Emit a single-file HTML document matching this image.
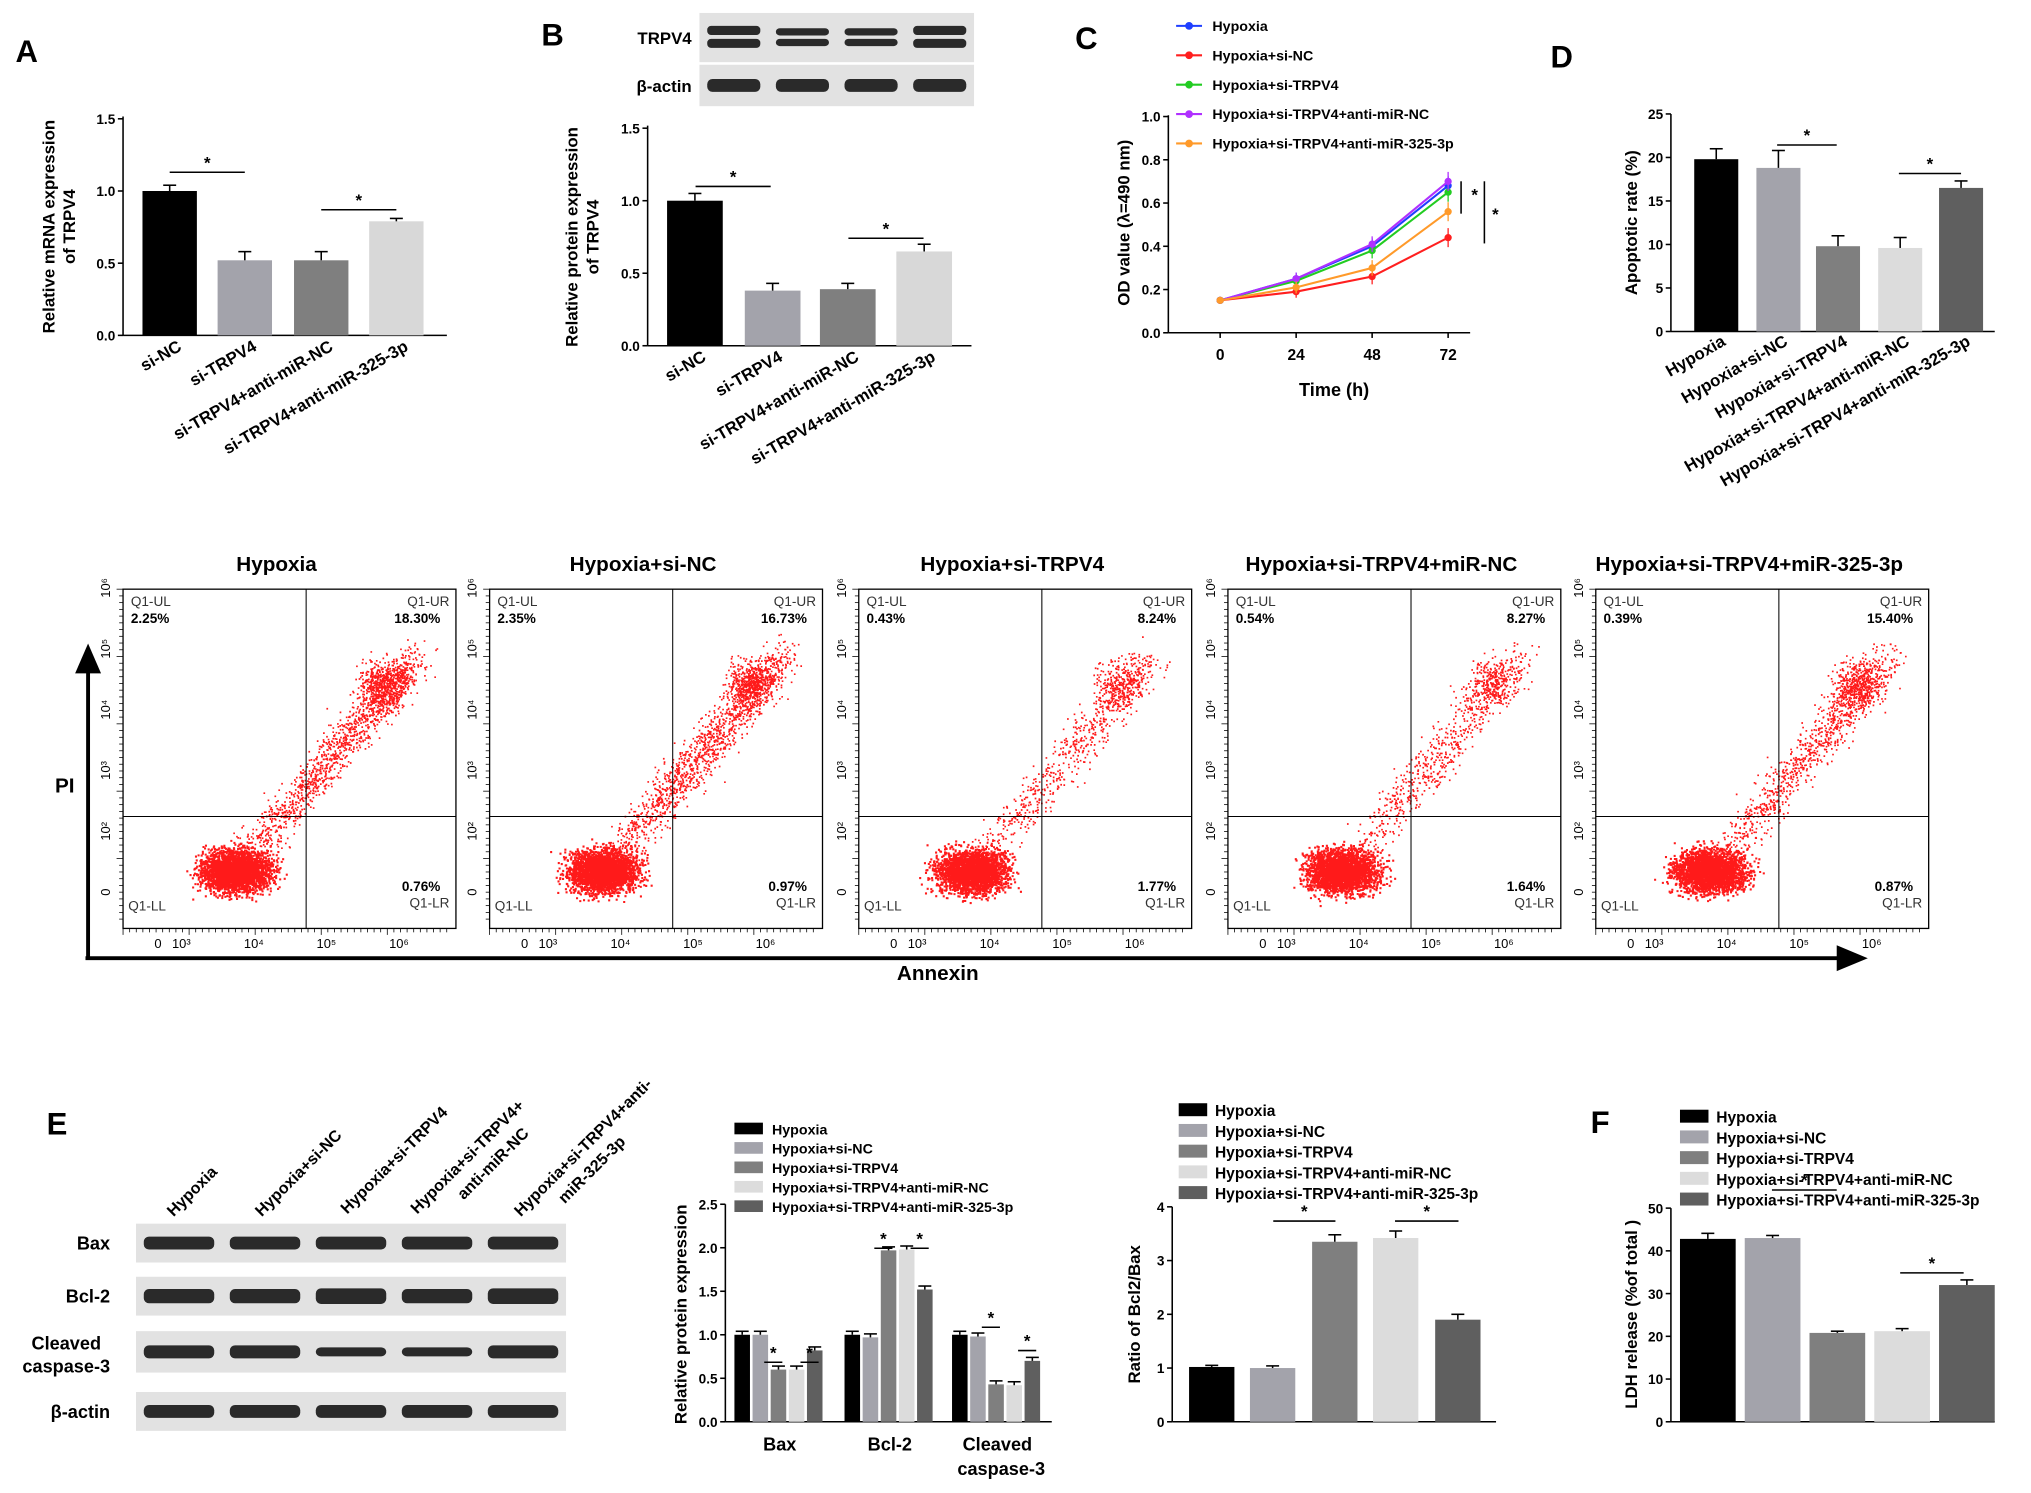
<!DOCTYPE html>
<html><head><meta charset="utf-8"><style>
html,body{margin:0;padding:0;background:#fff}
svg{display:block;font-family:"Liberation Sans",Arial,sans-serif}
</style></head><body>
<svg id="fig" width="2031" height="1493" viewBox="0 0 1568 1153" preserveAspectRatio="none" xmlns="http://www.w3.org/2000/svg"></svg>
<script>
// ---------- data ----------
const aCats=["si-NC","si-TRPV4","si-TRPV4+anti-miR-NC","si-TRPV4+anti-miR-325-3p"];
const aVals=[1.0,0.52,0.52,0.79];
const aErr=[0.04,0.06,0.06,0.02];
const bVals=[1.0,0.38,0.39,0.65];
const bErr=[0.05,0.05,0.04,0.05];
const cTimes=[0,24,48,72];
const cSeries=["Hypoxia","Hypoxia+si-NC","Hypoxia+si-TRPV4","Hypoxia+si-TRPV4+anti-miR-NC","Hypoxia+si-TRPV4+anti-miR-325-3p"];
const cHyp=[0.15,0.25,0.40,0.68];
const cSiNC=[0.15,0.19,0.26,0.44];
const cSiT=[0.15,0.24,0.38,0.65];
const cAntiNC=[0.15,0.25,0.41,0.70];
const cAnti325=[0.15,0.21,0.30,0.56];
const dCats=["Hypoxia","Hypoxia+si-NC","Hypoxia+si-TRPV4","Hypoxia+si-TRPV4+anti-miR-NC","Hypoxia+si-TRPV4+anti-miR-325-3p"];
const dVals=[19.8,18.8,9.8,9.6,16.5];
const dErr=[1.2,2.0,1.2,1.2,0.8];
const flowTitles=["Hypoxia","Hypoxia+si-NC","Hypoxia+si-TRPV4","Hypoxia+si-TRPV4+miR-NC","Hypoxia+si-TRPV4+miR-325-3p"];
const flowUL=["2.25%","2.35%","0.43%","0.54%","0.39%"];
const flowUR=["18.30%","16.73%","8.24%","8.27%","15.40%"];
const flowLR=["0.76%","0.97%","1.77%","1.64%","0.87%"];
const eGroups=["Bax","Bcl-2","Cleaved caspase-3"];
const eBax=[1.0,1.0,0.6,0.6,0.82];
const eBcl=[1.0,0.97,1.97,1.98,1.52];
const eCas=[1.0,0.98,0.43,0.42,0.70];
const ratioVals=[1.02,1.0,3.35,3.42,1.9];
const ldhVals=[42.8,43.0,20.8,21.2,32.0];
const colors5=["#000","#a3a3ab","#7f7f7f","#dcdcdc","#5f5f5f"];
const colors4=["#000","#a3a3ab","#7f7f7f","#d8d8d8"];
const lineColors=["#1f3fff","#ff1f1f","#22cc22","#b030ff","#ff9a2a"];

const S=document.getElementById('fig');
const NS="http://www.w3.org/2000/svg";
function el(tag,attrs,name,parent){
  const e=document.createElementNS(NS,tag);
  for(const k in attrs)e.setAttribute(k,attrs[k]);
  
  
  (parent||S).appendChild(e);return e;
}
function txt(x,y,s,name,opt){
  opt=opt||{};
  const a={x:x,y:y,'font-size':opt.fs||12,'font-weight':opt.fw||'bold','text-anchor':opt.anchor||'start',fill:opt.fill||'#000'};
  if(opt.rot!==undefined)a.transform=`rotate(${opt.rot} ${x} ${y})`;
  const t=el('text',a,name);t.textContent=s;return t;
}
function line(x1,y1,x2,y2,name,w,c){return el('line',{x1,y1,x2,y2,stroke:c||'#000','stroke-width':w||1.2},name);}
function yAxis(x,y0,y1,ticks,scale,name,fmt){
  line(x,y0,x,y1,name+'-line');
  ticks.forEach(t=>{const y=scale(t);line(x-4,y,x,y,name+'-tick');txt(x-6,y+4,fmt?fmt(t):String(t),name+'-tick-label',{anchor:'end',fs:10.5});});
}
function bars(xs,w,vals,errs,scale,cols,name){
  vals.forEach((v,i)=>{const y=scale(v),y0=scale(0);
    el('rect',{x:xs[i],y:y,width:w,height:y0-y,fill:cols[i]},name+'-bar');
    if(errs){const e=scale(v+errs[i]);const cx=xs[i]+w/2;line(cx,y,cx,e,name+'-error');line(cx-5,e,cx+5,e,name+'-error-cap');}
  });
}
function sig(x1,x2,y,name){line(x1,y,x2,y,name+'-sig-line');txt((x1+x2)/2,y-3,'*',name+'-sig-star',{anchor:'middle',fs:13});}
function blot(x,y,w,h,n,name,thick,dbl){
  el('rect',{x:x,y:y,width:w,height:h,fill:'#e2e2e2'},name+'-background');
  const bw=w/n;
  for(let i=0;i<n;i++){
    const th=thick?thick[i]:1;
    if(dbl){
      el('rect',{x:x+i*bw+6,y:y+h/2-9*th,width:bw-12,height:7*th,rx:3,fill:'#2a2a2a'},name+'-band-upper');
      el('rect',{x:x+i*bw+6,y:y+h/2+1,width:bw-12,height:7*th,rx:3,fill:'#2a2a2a'},name+'-band-lower');
    } else
    el('rect',{x:x+i*bw+6,y:y+h/2-5*th,width:bw-12,height:10*th,rx:4,fill:'#2a2a2a'},name+'-band');
  }
}

// ---------- Panel A ----------
txt(12,48,'A','panel-a-label',{fs:24});
{const sc=v=>259-v*111.5;
yAxis(95,259,90,[0.0,0.5,1.0,1.5],sc,'a-y-axis',t=>t.toFixed(1));
line(95,259,345,259,'a-x-axis');
bars([110,168,227,285],42,aVals,aErr,sc,colors4,'a');
sig(131,189,133,'a-1');sig(248,306,162,'a-2');
txt(42,175,'Relative mRNA expression','a-y-title',{rot:-90,anchor:'middle',fs:13});
txt(58,175,'of TRPV4','a-y-title-2',{rot:-90,anchor:'middle',fs:13});
[[131,270],[189,270],[248,270],[306,270]].forEach((p,i)=>txt(p[0]+10,p[1],aCats[i],'a-x-label',{rot:-30,anchor:'end',fs:13}));}

// ---------- Panel B ----------
txt(418,35,'B','panel-b-label',{fs:24});
txt(534,34,'TRPV4','b-blot-label-trpv4',{anchor:'end',fs:13});
txt(534,71,'β-actin','b-blot-label-actin',{anchor:'end',fs:13});
blot(540,10,212,38,4,'b-trpv4-blot',[1,0.8,0.8,1],true);
blot(540,50,212,32,4,'b-actin-blot');
{const sc=v=>267-v*112;
yAxis(500,267,97,[0.0,0.5,1.0,1.5],sc,'b-y-axis',t=>t.toFixed(1));
line(500,267,750,267,'b-x-axis');
bars([515,575,633,692],43,bVals,bErr,sc,colors4,'b');
sig(537,595,144,'b-1');sig(655,713,184,'b-2');
txt(446,183,'Relative protein expression','b-y-title',{rot:-90,anchor:'middle',fs:13});
txt(462,183,'of TRPV4','b-y-title-2',{rot:-90,anchor:'middle',fs:13});
[536,595,654,713].forEach((x,i)=>txt(x+10,278,aCats[i],'b-x-label',{rot:-30,anchor:'end',fs:13}));}

// ---------- Panel C ----------
txt(830,38,'C','panel-c-label',{fs:24});
{const sy=v=>257-v*167;const sx=t=>942+t*(176/72);
yAxis(902,257,89,[0.0,0.2,0.4,0.6,0.8,1.0],sy,'c-y-axis',t=>t.toFixed(1));
line(902,257,1135,257,'c-x-axis');
cTimes.forEach(t=>{line(sx(t),257,sx(t),261,'c-x-tick');txt(sx(t),278,String(t),'c-x-tick-label',{anchor:'middle',fs:12});});
txt(1030,306,'Time (h)','c-x-title',{anchor:'middle',fs:14});
txt(872,172,'OD value (λ=490 nm)','c-y-title',{rot:-90,anchor:'middle',fs:13});
const all=[cHyp,cSiNC,cSiT,cAntiNC,cAnti325];
all.forEach((s,k)=>{
  const pts=s.map((v,i)=>sx(cTimes[i])+','+sy(v)).join(' ');
  el('polyline',{points:pts,fill:'none',stroke:lineColors[k],'stroke-width':1.6},'c-series-line');
  s.forEach((v,i)=>{el('circle',{cx:sx(cTimes[i]),cy:sy(v),r:2.8,fill:lineColors[k]},'c-series-point');
    if(i>0){const e=0.02+i*0.008;line(sx(cTimes[i]),sy(v-e),sx(cTimes[i]),sy(v+e),'c-error',1,lineColors[k]);}});
  const ly=20+k*22.7;
  line(908,ly,928,ly,'c-legend-line',1.6,lineColors[k]);
  el('circle',{cx:918,cy:ly,r:3,fill:lineColors[k]},'c-legend-marker');
  txt(936,ly+4,cSeries[k],'c-legend-entry',{fs:11});
});
line(1128,140,1128,165,'c-sig-line-1');txt(1136,155,'*','c-sig-star-1',{fs:13});
line(1146,140,1146,188,'c-sig-line-2');txt(1152,170,'*','c-sig-star-2',{fs:13});}

// ---------- Panel D ----------
txt(1197,52,'D','panel-d-label',{fs:24});
{const sc=v=>256-v*6.72;
yAxis(1290,256,88,[0,5,10,15,20,25],sc,'d-y-axis');
line(1290,256,1540,256,'d-x-axis');
bars([1308,1356,1402,1450,1497],34,dVals,dErr,sc,colors5,'d');
sig(1372,1418,112,'d-1');sig(1466,1514,134,'d-2');
txt(1264,172,'Apoptotic rate (%)','d-y-title',{rot:-90,anchor:'middle',fs:13});
[1325,1373,1419,1467,1514].forEach((x,i)=>txt(x+8,266,dCats[i],'d-x-label',{rot:-30,anchor:'end',fs:13}));}

// ---------- Flow cytometry ----------
let seed=7;function rnd(){seed=(seed*16807)%2147483647;return seed/2147483647;}
function gauss(){return (rnd()+rnd()+rnd()+rnd()-2)/1.15;}
const flowX=[95,378,663,948,1232];
const flowDiag=[1.0,1.0,0.5,0.5,0.75];
flowX.forEach((x0,p)=>{
  const w=257,y0=455,h=262;const qx=x0+w*0.55,qy=y0+h*0.67;
  txt(x0+w/2-10,441,flowTitles[p],'flow-title',{anchor:'middle',fs:16});
  el('rect',{x:x0,y:y0,width:w,height:h,fill:'#fff',stroke:'#000','stroke-width':1},'flow-plot-frame');
  let d='';
  for(let i=0;i<2800;i++){const px=x0+w*0.34+gauss()*26,py=y0+h*0.83+gauss()*16;d+=`M${px.toFixed(1)} ${py.toFixed(1)}h1.6v1.6h-1.6z`;}
  const nd=Math.round(1300*flowDiag[p]);
  for(let i=0;i<nd;i++){const t=Math.pow(rnd(),0.8);const px=x0+w*(0.38+t*0.5)+gauss()*14,py=y0+h*(0.78-t*0.58)+gauss()*16;d+=`M${px.toFixed(1)} ${py.toFixed(1)}h1.3v1.3h-1.3z`;}
  for(let i=0;i<Math.round(500*flowDiag[p]);i++){const px=x0+w*(0.78+gauss()*0.07),py=y0+h*(0.28+gauss()*0.07);d+=`M${px.toFixed(1)} ${py.toFixed(1)}h1.3v1.3h-1.3z`;}
  el('path',{d:d,fill:'#ff1a1a'},'flow-dots');
  line(qx,y0,qx,y0+h,'flow-quadrant-v',0.8);line(x0,qy,x0+w,qy,'flow-quadrant-h',0.8);
  txt(x0+6,y0+13,'Q1-UL','flow-ul-label',{fs:10.5,fw:'normal',fill:'#333'});
  txt(x0+6,y0+26,flowUL[p],'flow-ul-value',{fs:10.5});
  txt(x0+w-5,y0+13,'Q1-UR','flow-ur-label',{fs:10.5,fw:'normal',anchor:'end',fill:'#333'});
  txt(x0+w-12,y0+26,flowUR[p],'flow-ur-value',{fs:10.5,anchor:'end'});
  txt(x0+w-12,y0+233,flowLR[p],'flow-lr-value',{fs:10.5,anchor:'end'});
  txt(x0+w-5,y0+246,'Q1-LR','flow-lr-label',{fs:10.5,fw:'normal',anchor:'end',fill:'#333'});
  txt(x0+4,y0+248,'Q1-LL','flow-ll-label',{fs:10.5,fw:'normal',fill:'#333'});
  ['0','10²','10³','10⁴','10⁵','10⁶'].forEach((s,i)=>{const y=y0+h-28-i*47;txt(x0-10,y,s,'flow-y-tick-label',{rot:-90,anchor:'middle',fs:10,fw:'normal'});});
  ['0','10³','10⁴','10⁵','10⁶'].forEach((s,i)=>{const x=i==0?x0+27:x0+45+(i-1)*56;txt(x,y0+h+15,s,'flow-x-tick-label',{anchor:'middle',fs:10,fw:'normal'});});
  for(let i=0;i<50;i++){line(x0+i*5.1,y0+h,x0+i*5.1,y0+h+(i%10==0?5:3),'flow-x-minor-tick',0.6);line(x0,y0+i*5.2,x0-(i%10==0?5:3),y0+i*5.2,'flow-y-minor-tick',0.6);}
});
line(68,740,68,512,'pi-axis-arrow-line',3);
el('polygon',{points:'58,520 78,520 68,497'},'pi-axis-arrowhead');
line(66,740,1420,740,'annexin-axis-arrow-line',3);
el('polygon',{points:'1418,730 1418,750 1442,740'},'annexin-axis-arrowhead');
txt(50,612,'PI','pi-axis-title',{anchor:'middle',fs:16});
txt(724,757,'Annexin','annexin-axis-title',{anchor:'middle',fs:16});

// ---------- Panel E blots ----------
txt(36,876,'E','panel-e-label',{fs:24});
[['Hypoxia',134,940],['Hypoxia+si-NC',202,940],['Hypoxia+si-TRPV4',268,938],['Hypoxia+si-TRPV4+',322,938],['anti-miR-NC',358,927],['Hypoxia+si-TRPV4+anti-',402,940],['miR-325-3p',436,930]].forEach(a=>txt(a[1],a[2],a[0],'e-blot-column-label',{rot:-45,fs:12.5}));
blot(105,945,332,30,5,'e-bax-blot');blot(105,986,332,30,5,'e-bcl2-blot',[1.1,1.1,1.2,1.1,1.2]);
blot(105,1028,332,32,5,'e-caspase-blot',[1.0,1.0,0.7,0.7,1.0]);blot(105,1075,332,30,5,'e-actin-blot');
txt(85,965,'Bax','e-blot-row-bax',{anchor:'end',fs:14});
txt(85,1006,'Bcl-2','e-blot-row-bcl2',{anchor:'end',fs:14});
txt(78,1042,'Cleaved','e-blot-row-cleaved',{anchor:'end',fs:14});
txt(85,1060,'caspase-3','e-blot-row-caspase',{anchor:'end',fs:14});
txt(85,1095,'β-actin','e-blot-row-actin',{anchor:'end',fs:14});

// grouped bar chart
{const sc=v=>1098-v*67.2;
yAxis(560,1098,930,[0.0,0.5,1.0,1.5,2.0,2.5],sc,'e-y-axis',t=>t.toFixed(1));
line(560,1098,812,1098,'e-x-axis');
const gc=[602,687,770];const data=[eBax,eBcl,eCas];
data.forEach((g,gi)=>{const xs=g.map((v,i)=>gc[gi]-35+i*14);bars(xs,12,g,g.map(()=>0.04),sc,colors5,'e-'+eGroups[gi].toLowerCase().replace(/ /g,'-'));});
sig(590,604,1052,'e-bax-1');sig(618,632,1052,'e-bax-2');sig(675,689,964,'e-bcl-1');sig(703,717,964,'e-bcl-2');sig(758,772,1025,'e-cas-1');sig(786,800,1043,'e-cas-2');
txt(602,1120,'Bax','e-x-label',{anchor:'middle',fs:14});txt(687,1120,'Bcl-2','e-x-label',{anchor:'middle',fs:14});
txt(770,1120,'Cleaved','e-x-label',{anchor:'middle',fs:14});txt(773,1139,'caspase-3','e-x-label',{anchor:'middle',fs:14});
txt(530,1015,'Relative protein expression','e-y-title',{rot:-90,anchor:'middle',fs:13});
cSeries.forEach((s,i)=>{el('rect',{x:567,y:867+i*15,width:22,height:9,fill:colors5[i]},'e-legend-swatch');txt(596,876+i*15,s,'e-legend-entry',{fs:11});});}

// ratio chart
{const sc=v=>1098-v*41.5;
yAxis(905,1098,932,[0,1,2,3,4],sc,'ratio-y-axis');
line(905,1098,1155,1098,'ratio-x-axis');
bars([918,965,1013,1060,1108],35,ratioVals,[0.03,0.04,0.13,0.13,0.1],sc,colors5,'ratio');
sig(983,1031,943,'ratio-1');sig(1077,1126,943,'ratio-2');
txt(880,1015,'Ratio of Bcl2/Bax','ratio-y-title',{rot:-90,anchor:'middle',fs:13});
cSeries.forEach((s,i)=>{el('rect',{x:910,y:852+i*16,width:22,height:10,fill:colors5[i]},'ratio-legend-swatch');txt(938,862+i*16,s,'ratio-legend-entry',{fs:12});});}

// ---------- Panel F ----------
txt(1228,875,'F','panel-f-label',{fs:24});
{const sc=v=>1098-v*3.3;
yAxis(1290,1098,933,[0,10,20,30,40,50],sc,'f-y-axis');
line(1290,1098,1540,1098,'f-x-axis');
bars([1297,1347,1397,1447,1497],43,ldhVals,[1.3,0.6,0.4,0.6,1.2],sc,colors5,'f');
sig(1368,1418,919,'f-1');sig(1467,1516,983,'f-2');
txt(1264,1015,'LDH release (%of total )','f-y-title',{rot:-90,anchor:'middle',fs:13});
cSeries.forEach((s,i)=>{el('rect',{x:1297,y:857+i*16,width:22,height:10,fill:colors5[i]},'f-legend-swatch');txt(1325,867+i*16,s,'f-legend-entry',{fs:12});});}
</script>
</body></html>
